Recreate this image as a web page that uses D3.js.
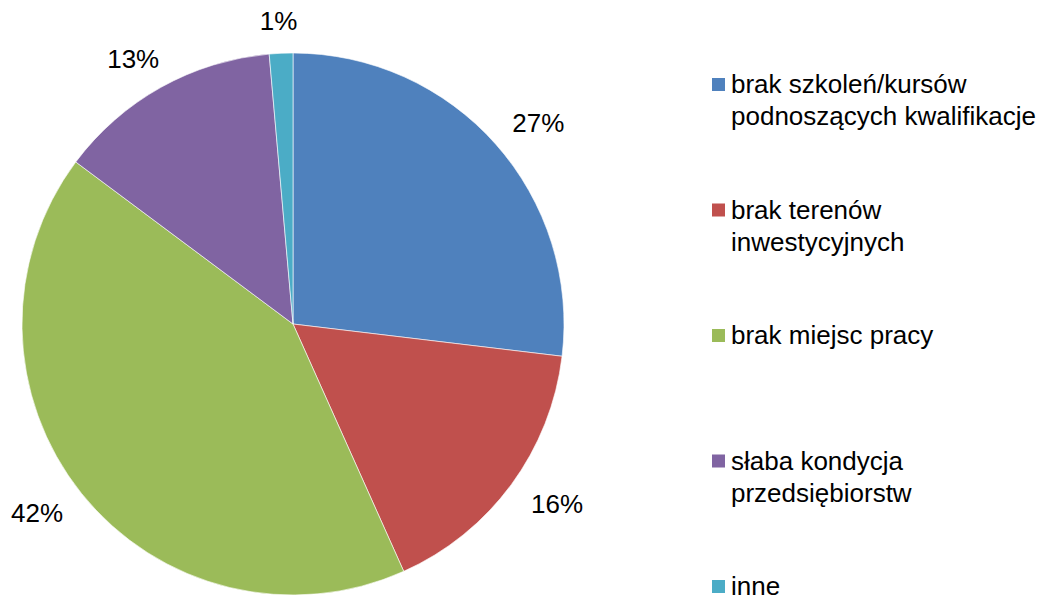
<!DOCTYPE html>
<html>
<head>
<meta charset="utf-8">
<script src="https://cdn.jsdelivr.net/npm/d3@7"></script>
<style>
  body { margin: 0; background: #fff; }
  text { font-family: "Liberation Sans", Arial, sans-serif; fill: #000; }
</style>
</head>
<body>
<div id="chart"></div>
<script>
(function(d3) {
  'use strict';

  // data
  var categories = [
    ['brak szkoleń/kursów', 'podnoszących kwalifikacje'],
    ['brak terenów', 'inwestycyjnych'],
    ['brak miejsc pracy'],
    ['słaba kondycja', 'przedsiębiorstw'],
    ['inne']
  ];
  var values = [26.9, 16.4, 41.9, 13.4, 1.4];
  var colors = ['#4F81BD', '#C0504D', '#9BBB59', '#8064A2', '#4BACC6'];

  var width = 1047;
  var height = 599;
  var cx = 293, cy = 324;
  var radius = 271;
  var fontSize = 26;

  var svg = d3.select('#chart')
    .append('svg')
    .attr('width', width)
    .attr('height', height);

  var g = svg.append('g')
    .attr('transform', 'translate(' + cx + ',' + cy + ')');

  var pie = d3.pie().value(function(d) { return d; }).sort(null);
  var arc = d3.arc().innerRadius(0).outerRadius(radius);
  var total = d3.sum(values);
  var arcs = pie(values);

  g.selectAll('path')
    .data(arcs)
    .enter()
    .append('path')
    .attr('d', arc)
    .attr('fill', function(d, i) { return colors[i]; })
    .attr('stroke', 'rgba(255,255,255,0.6)')
    .attr('stroke-width', 1);

  // percent labels, placed just outside the edge
  var gap = 27;
  g.selectAll('.pct')
    .data(arcs)
    .enter()
    .append('text')
    .attr('class', 'pct')
    .attr('font-size', fontSize)
    .attr('text-anchor', 'middle')
    .attr('dominant-baseline', 'central')
    .attr('x', function(d) {
      var a = (d.startAngle + d.endAngle) / 2;
      return (radius + gap + 30) * Math.sin(a);
    })
    .attr('y', function(d) {
      var a = (d.startAngle + d.endAngle) / 2;
      return -(radius + gap + 5) * Math.cos(a);
    })
    .text(function(d) { return Math.round(100 * d.data / total) + '%'; });

  // legend
  var legend = svg.selectAll('.legend')
    .data(categories)
    .enter()
    .append('g')
    .attr('class', 'legend')
    .attr('transform', function(d, i) {
      return 'translate(712,' + (93 + i * 125.5) + ')';
    });

  legend.append('rect')
    .attr('x', 0)
    .attr('y', -15)
    .attr('width', 13)
    .attr('height', 13)
    .attr('fill', function(d, i) { return colors[i]; });

  legend.append('text')
    .attr('font-size', fontSize)
    .selectAll('tspan')
    .data(function(d) { return d; })
    .enter()
    .append('tspan')
    .attr('x', 19)
    .attr('y', function(d, i) { return i * 32; })
    .text(function(d) { return d; });

})(window.d3);
</script>
</body>
</html>
